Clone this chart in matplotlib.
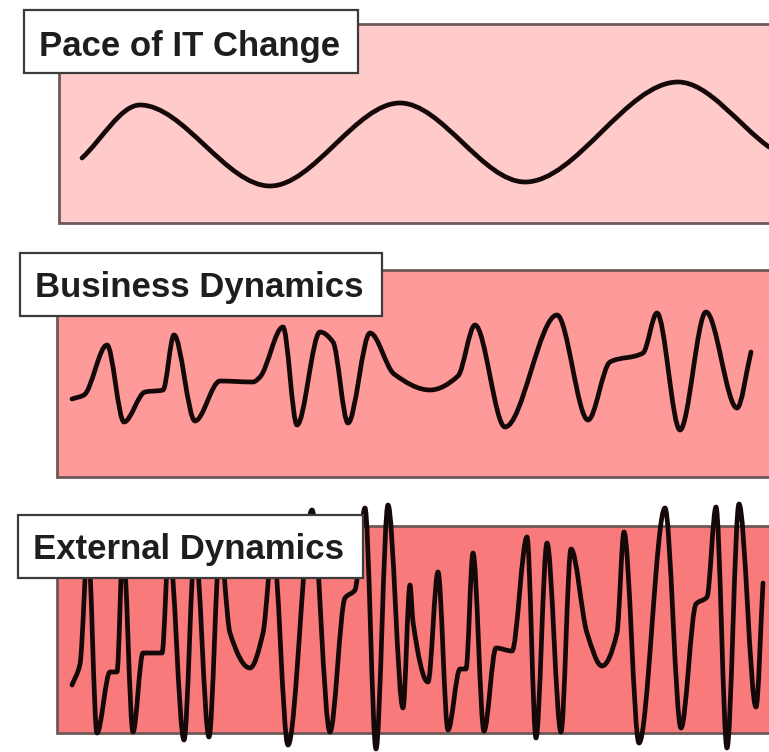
import matplotlib
matplotlib.use("Agg")
from matplotlib import pyplot as plt
from matplotlib.path import Path
from matplotlib.patches import PathPatch, Rectangle

# points read along each wave (x, y in picture pixels, y grows downward)
pace_x = [82, 140, 270, 400, 525, 678, 769]
pace_y = [158, 105, 186, 103, 182, 82, 147]

business_x = [72, 84, 107, 124, 145, 163, 174, 195, 220, 253, 260, 283, 297, 320, 333, 348,
              370, 394, 430, 458, 475, 505, 557, 588, 610, 643, 657, 680, 706, 737, 751]
business_y = [399, 395, 345, 422, 392, 390, 335, 421, 381, 382, 377, 327, 425, 332, 342, 423,
              333, 374, 390, 376, 325, 427, 315, 420, 362, 353, 313, 430, 312, 408, 352]

external_x = [72, 80, 88, 97, 110, 117, 123, 133, 143, 162, 169, 184, 195, 209, 220, 230,
              250, 263, 273, 288, 312, 330, 345, 355, 365, 376, 388, 403, 410, 413, 428, 438,
              448, 460, 466, 473, 484, 496, 512, 527, 536, 547, 561, 571, 587, 602, 617, 624,
              639, 665, 681, 696, 707, 716, 727, 739, 756, 763]
external_y = [685, 664, 545, 733, 672, 672, 545, 732, 653, 653, 545, 740, 545, 737, 545, 633,
              668, 633, 545, 745, 510, 732, 598, 590, 508, 749, 505, 708, 585, 622, 682, 572,
              730, 669, 669, 553, 731, 648, 651, 537, 738, 543, 732, 549, 633, 666, 633, 532,
              743, 508, 728, 604, 597, 507, 748, 504, 707, 583]

titles = ["Pace of IT Change", "Business Dynamics", "External Dynamics"]
fills = ["#ffcaca", "#fe9a9a", "#f87a7a"]


def smooth_path(xs, ys):
    # monotone cubic pieces drawn as bezier segments through the read points
    n = len(xs)
    h = [xs[i + 1] - xs[i] for i in range(n - 1)]
    d = [(ys[i + 1] - ys[i]) / h[i] for i in range(n - 1)]
    m = [0.0] * n
    m[0], m[-1] = d[0], d[-1]
    for i in range(1, n - 1):
        if d[i - 1] * d[i] <= 0:
            m[i] = 0.0
        else:
            w1 = 2 * h[i] + h[i - 1]
            w2 = h[i] + 2 * h[i - 1]
            m[i] = (w1 + w2) / (w1 / d[i - 1] + w2 / d[i])
    verts = [(xs[0], ys[0])]
    codes = [Path.MOVETO]
    for i in range(n - 1):
        t = h[i] / 3
        verts += [(xs[i] + t, ys[i] + m[i] * t),
                  (xs[i + 1] - t, ys[i + 1] - m[i + 1] * t),
                  (xs[i + 1], ys[i + 1])]
        codes += [Path.CURVE4] * 3
    return Path(verts, codes)


fig = plt.figure(figsize=(7.69, 7.52), dpi=100)
ax = fig.add_axes([0, 0, 1, 1])
ax.set_xlim(0, 769)
ax.set_ylim(752, 0)
ax.axis("off")

panels = [(59, 24, 199), (57, 270, 207), (57, 526, 207)]
boxes = [(24, 10, 334, 63), (20, 253, 362, 63), (18, 515, 345, 63)]
baselines = [56, 297, 559]
curves = [(pace_x, pace_y), (business_x, business_y), (external_x, external_y)]

for k in range(3):
    x0, y0, hgt = panels[k]
    ax.add_patch(Rectangle((x0, y0), 800 - x0, hgt, facecolor=fills[k],
                           edgecolor="#6e5858", lw=2, zorder=1))
    cx, cy = curves[k]
    ax.add_patch(PathPatch(smooth_path(cx, cy), facecolor="none", edgecolor="#140808",
                           lw=3.4, capstyle="round", joinstyle="round", zorder=2))
    bx, by, bw, bh = boxes[k]
    ax.add_patch(Rectangle((bx, by), bw, bh, facecolor="white",
                           edgecolor="#3c3c3c", lw=1.6, zorder=3))
    ax.text(bx + 15, baselines[k], titles[k], fontsize=25, fontweight="bold",
            family="Liberation Sans", color="#1e1e1e", va="baseline", ha="left", zorder=4)

fig.savefig("out.png", dpi=100)
